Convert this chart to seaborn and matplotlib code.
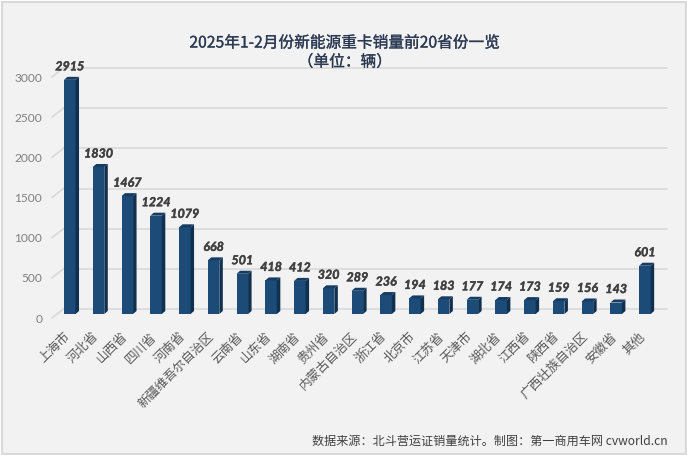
import matplotlib
matplotlib.use('Agg')
import matplotlib.pyplot as plt
import matplotlib.patheffects as pe
from matplotlib.patches import Rectangle
from matplotlib.transforms import ScaledTranslation, offset_copy
import seaborn as sns

provinces = ['上海市', '河北省', '山西省', '四川省', '河南省', '新疆维吾尔自治区', '云南省', '山东省',
             '湖南省', '贵州省', '内蒙古自治区', '浙江省', '北京市', '江苏省', '天津市', '湖北省',
             '江西省', '陕西省', '广西壮族自治区', '安徽省', '其他']
sales = [2915, 1830, 1467, 1224, 1079, 668, 501, 418, 412, 320, 289, 236, 194, 183, 177, 174,
         173, 159, 156, 143, 601]
y_ticks = [0, 500, 1000, 1500, 2000, 2500, 3000]

W, H = 687, 455
CJK = ['Noto Sans CJK SC', 'DejaVu Sans']
FRONT, SIDE, TOP = '#1c4b78', '#10304f', '#163c63'
GRID = '#d9d9d9'
TITLE_COLOR = '#2b3a52'
VALUE_COLOR = '#404040'

sns.set_theme(style='white')
plt.rcParams['font.family'] = CJK

fig = plt.figure(figsize=(W / 100, H / 100), dpi=100, facecolor='white')
fig.add_artist(Rectangle((1.5 / W, 1.5 / H), (W - 3) / W, (H - 3) / H, transform=fig.transFigure,
                         facecolor='#f2f2f2', edgecolor=GRID, linewidth=1.5, zorder=-5))
ax = fig.add_axes([55.4 / W, (H - 314) / H, 603.9 / W, 241 / H])
ax.patch.set_alpha(0)

sns.barplot(x=provinces, y=sales, color=FRONT, saturation=1, width=0.4, linewidth=0, ax=ax, zorder=3)
ax.set_xlim(-0.5, 20.5)
ax.set_ylim(0, 3000)
ax.set_yticks(y_ticks)
sns.despine(ax=ax, left=True, bottom=True)

# fake 3D: wall grid, floor diagonals, bar sides
wall = offset_copy(ax.transData, fig=fig, x=8, y=5, units='dots')
for v in y_ticks:
    ax.plot([-0.5, 20.5], [v, v], color=GRID, lw=1.2, transform=wall, clip_on=False, zorder=1)
    ax.plot([-0.62, -0.22], [v - 50, v + 62], color=GRID, lw=1.2, clip_on=False, zorder=1)

dx = 3.5 / 28.76
dy = 3 / (241 / 3000)
for bar in ax.patches:
    x1 = bar.get_x() + bar.get_width()
    x0 = bar.get_x()
    h = bar.get_height()
    ax.fill([x1, x1 + dx, x1 + dx, x1], [0, dy, h + dy, h], color=SIDE, lw=0, clip_on=False, zorder=3)
    ax.fill([x0, x0 + dx, x1 + dx, x1], [h, h + dy, h + dy, h], color=TOP, lw=0, clip_on=False, zorder=3)

value_stroke = [pe.withStroke(linewidth=0.3, foreground=VALUE_COLOR)]
for i, v in enumerate(sales):
    ax.annotate(str(v), (i, v), xytext=(0, 9.7), textcoords='offset points', ha='center', va='center',
                family='Lato', fontsize=9, fontweight='bold', fontstyle='italic', color=VALUE_COLOR,
                path_effects=value_stroke, zorder=5)

ax.tick_params(axis='y', length=0, pad=9.5, labelsize=8.6, labelcolor='#7f7f7f')
ax.tick_params(axis='x', length=0, pad=10, labelsize=9.1, labelcolor='#595959')
y_shift = ScaledTranslation(0, -2.9 / 72, fig.dpi_scale_trans)
for lbl in ax.get_yticklabels():
    lbl.set_family('Lato')
    lbl.set_transform(lbl.get_transform() + y_shift)
x_shift = ScaledTranslation(-6.5 / 100, -2 / 100, fig.dpi_scale_trans)
for lbl in ax.get_xticklabels():
    lbl.set_rotation(45)
    lbl.set_ha('right')
    lbl.set_rotation_mode('anchor')
    lbl.set_transform(lbl.get_transform() + x_shift)

# regular weight plus a thin stroke reads like the medium weight of the original
medium = [pe.withStroke(linewidth=0.2, foreground=TITLE_COLOR)]
fig.text(345 / W, 1 - 43 / H, '2025年1-2月份新能源重卡销量前20省份一览', ha='center', va='center',
         fontsize=11.3, color=TITLE_COLOR, path_effects=medium)
fig.text(345 / W, 1 - 62 / H, '（单位：辆）', ha='center', va='center',
         fontsize=11.3, color=TITLE_COLOR, path_effects=medium)
fig.text(668 / W, 1 - 441 / H, '数据来源：北斗营运证销量统计。制图：第一商用车网 cvworld.cn', ha='right', va='center',
         fontsize=8.7, color='#404040')

fig.savefig('out.png', dpi=100)
